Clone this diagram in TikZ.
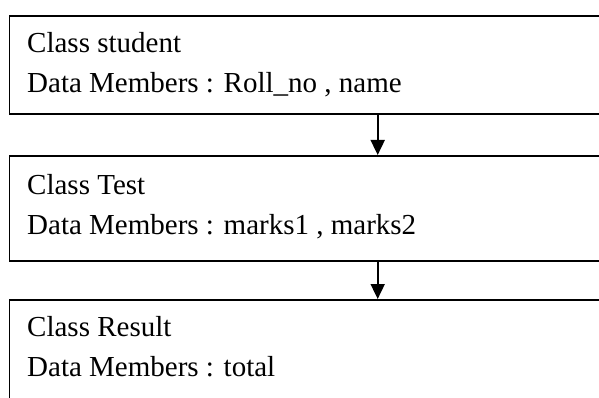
\documentclass[tikz,border=0pt]{standalone}
\usepackage{fontspec}
\setmainfont{Liberation Serif}
\usetikzlibrary{arrows.meta,positioning}

\tikzset{
  classbox/.style={draw, line width=1.8pt, rectangle, anchor=north west,
    minimum width=620pt, inner sep=0pt},
  member/.style={anchor=base west, inner sep=0pt,
    font=\fontsize{29}{40}\selectfont},
  flow/.style={-{Triangle[length=15pt,width=14pt]}, line width=1.8pt}
}

\begin{document}
\begin{tikzpicture}[x=1pt,y=-1pt]

    % page size
    \useasboundingbox (0,0) rectangle (599,398);
    \clip (0,0) rectangle (599,398);

    % draw boxes
    \node[classbox, minimum height=98.3pt] (student) at (8.5,15) {};
    \node[classbox, minimum height=105pt] (test) at (8.5,155) {};
    \node[classbox, minimum height=120pt] (result) at (8.5,299) {};

    % draw texts
    \node[member] (studentname) at (27,53) {Class student};
    \node[member] (studentdata) at (27,93) {Data Members : Roll\_no , name};
    \node[member] (testname) at (27,194.3) {Class Test};
    \node[member] (testdata) at (27,234.3) {Data Members : marks1 , marks2};
    \node[member] (resultname) at (27,336.7) {Class Result};
    \node[member] (resultdata) at (27,376.7) {Data Members : total};

    % draw arrows
    \coordinate (ax) at (377.7,0);
    \draw[flow] (student.south -| ax) -- (test.north -| ax);
    \draw[flow] (test.south -| ax) -- (result.north -| ax);
  \end{tikzpicture}
\end{document}
